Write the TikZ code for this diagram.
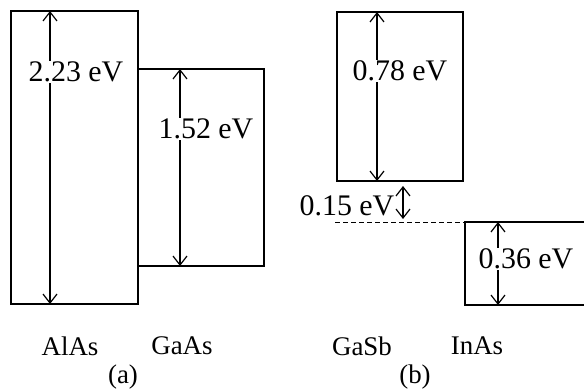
\documentclass[tikz,border=0pt]{standalone}
\usepackage{fontspec}
\setmainfont{Liberation Serif}
\usetikzlibrary{arrows.meta,positioning}

\begin{document}
\begin{tikzpicture}[x=1bp, y=-1bp,
    band/.style={rectangle, draw, line width=2.2bp, anchor=north west, inner sep=0pt, outer sep=0pt},
    gap/.style={{Straight Barb[length=9bp,width=14bp]}-{Straight Barb[length=9bp,width=14bp]}, line width=1.2bp},
    val/.style={fill=white, inner sep=0.5bp, font=\fontsize{30}{34}\selectfont},
    matl/.style={inner sep=0pt, font=\fontsize{27}{31}\selectfont}
]
\useasboundingbox (0,0) rectangle (584,390);

% (a) AlAs / GaAs
\node[band, minimum width=127bp, minimum height=293bp] (alas) at (11,11) {};
\node[band, minimum width=126bp, minimum height=197bp] (gaas) at (138,69) {};

\coordinate (alastop) at (50,11);
\coordinate (alasbot) at (50,304);
\coordinate (gaastop) at (180,69);
\coordinate (gaasbot) at (180,266);
\draw[gap] (alastop) -- (alasbot);
\draw[gap] (gaastop) -- (gaasbot);
\node[val] (egalas) at (76,72) {2.23 eV};
\node[val] (eggaas) at (206,129) {1.52 eV};

% (b) GaSb / InAs
\node[band, minimum width=126bp, minimum height=169bp] (gasb) at (337,12) {};
\node[band, minimum width=130bp, minimum height=83bp] (inas) at (465,222) {};

\coordinate (gasbtop) at (377,12);
\coordinate (gasbbot) at (377,181);
\coordinate (inastop) at (498,222);
\coordinate (inasbot) at (498,305);
\coordinate (offtop) at (403,186);
\coordinate (offbot) at (403,219);
\coordinate (dashstart) at (335,222);
\draw[gap] (gasbtop) -- (gasbbot);
\draw[gap] (inastop) -- (inasbot);
\draw[gap] (offtop) -- (offbot);
\draw[line width=0.9bp, dash pattern=on 5bp off 3bp] (dashstart) -- (inas.north west);
\node[val] (eggasb) at (400,71) {0.78 eV};
\node[val] (eginas) at (526,259) {0.36 eV};
\node[val, fill=none] (offset) at (347,206) {0.15 eV};

% labels
\node[matl] (lalas) at (70,346) {AlAs};
\node[matl] (lgaas) at (182,346) {GaAs};
\node[matl] (la) at (123,377) {(a)};
\node[matl] (lgasb) at (362,346) {GaSb};
\node[matl] (linas) at (477,346) {InAs};
\node[matl] (lb) at (415,377) {(b)};

\end{tikzpicture}
\end{document}
